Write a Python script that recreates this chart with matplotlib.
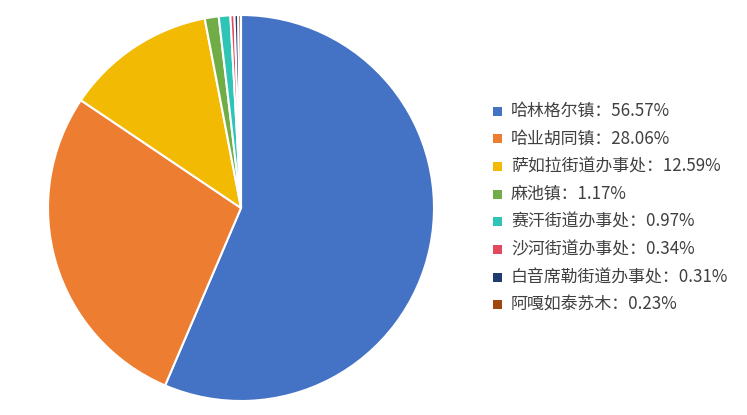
import matplotlib.pyplot as plt
from matplotlib.patches import Rectangle

plt.rcParams['font.family'] = ['Noto Sans CJK SC', 'DejaVu Sans']

names = ['哈林格尔镇', '哈业胡同镇', '萨如拉街道办事处', '麻池镇',
         '赛汗街道办事处', '沙河街道办事处', '白音席勒街道办事处', '阿嘎如泰苏木']
shares = [56.57, 28.06, 12.59, 1.17, 0.97, 0.34, 0.31, 0.23]
colors = ['#4472C4', '#ED7D31', '#F2BA02', '#70AD47', '#2EC4B6', '#E2485E', '#203A72', '#9E480E']

W, H = 747, 415
fig = plt.figure(figsize=(W / 100, H / 100), dpi=100)

# pie centre (241, 208) px, radius 193 px
cx, cy, r = 241, 208, 193
ax = fig.add_axes([(cx - r) / W, (H - cy - r) / H, 2 * r / W, 2 * r / H])
ax.pie(shares, colors=colors, startangle=90, counterclock=False, radius=1,
       wedgeprops=dict(edgecolor='white', linewidth=1.5))
ax.set_xlim(-1, 1)
ax.set_ylim(-1, 1)
ax.axis('off')

# legend
y0, dy = 111, 27.7
for i, (n, s) in enumerate(zip(names, shares)):
    y = y0 + i * dy
    fig.patches.append(Rectangle(((497 - 4.5) / W, (H - y - 4.5) / H), 9 / W, 9 / H,
                                 transform=fig.transFigure, facecolor=colors[i],
                                 edgecolor='none'))
    fig.text(511 / W, (H - y) / H, f'{n}：{s:.2f}%', fontsize=12.2, color='#404040',
             va='center', ha='left')

fig.savefig('out.png', dpi=100)
